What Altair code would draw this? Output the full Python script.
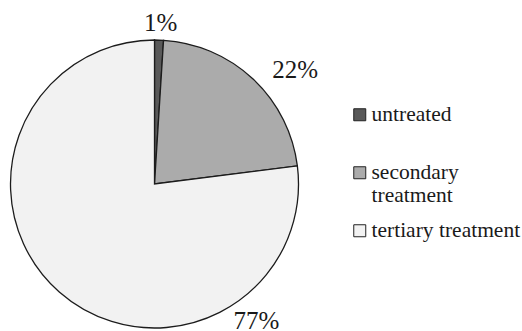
import altair as alt
import pandas as pd
import math

categories = ["untreated", "secondary treatment", "tertiary treatment"]
values = [1, 22, 77]
pct_labels = ["1%", "22%", "77%"]
colors = ["#595959", "#ababab", "#f2f2f2"]

# label placement (layout only): angle in degrees clockwise from 12 o'clock, distance from centre
label_angle = [2.2, 51, 143.4]
label_radius = [161, 181, 171]

df = pd.DataFrame({
    "category": categories,
    "value": values,
    "order": list(range(len(categories))),
    "label": pct_labels,
    "angle": label_angle,
    "lr": label_radius,
})

CX, CY, R = 154.5, 184, 144
SERIF = "'Liberation Serif', 'Times New Roman', serif"

base = alt.Chart(df)

pie = base.mark_arc(stroke="#1c1c1c", strokeWidth=1.3, outerRadius=R).encode(
    theta=alt.Theta("value:Q", stack=True),
    order=alt.Order("order:Q"),
    color=alt.Color(
        "category:N",
        scale=alt.Scale(domain=categories, range=colors),
        legend=alt.Legend(
            title=None,
            orient="none",
            legendX=349,
            legendY=104,
            padding=0,
            symbolType="square",
            symbolSize=144,
            symbolStrokeColor="#222222",
            symbolStrokeWidth=1,
            labelFont=SERIF,
            labelFontSize=21.5,
            labelColor="#1a1a1a",
            labelOffset=1,
            labelLimit=300,
            rowPadding=12,
            labelExpr=(
                "datum.label == 'secondary treatment' ? ['secondary', 'treatment'] : "
                "(datum.label == 'untreated' ? ['untreated', ''] : datum.label)"
            ),
        ),
    ),
    x=alt.value(CX),
    y=alt.value(CY),
)

text = base.mark_text(
    font=SERIF, fontSize=25, color="#1a1a1a", baseline="middle", align="center"
).encode(
    theta=alt.Theta("angle:Q", scale=alt.Scale(domain=[0, 360], range=[0, 2 * math.pi])),
    radius=alt.Radius("lr:Q", scale=None),
    text="label:N",
    x=alt.value(CX),
    y=alt.value(CY),
)

chart = (
    alt.layer(pie, text)
    .resolve_scale(theta="independent")
    .properties(width=522, height=331, padding=0, autosize="none", background="white")
    .configure_view(stroke=None)
)

chart.save("out.html", embed_options={"renderer": "svg", "actions": False})
